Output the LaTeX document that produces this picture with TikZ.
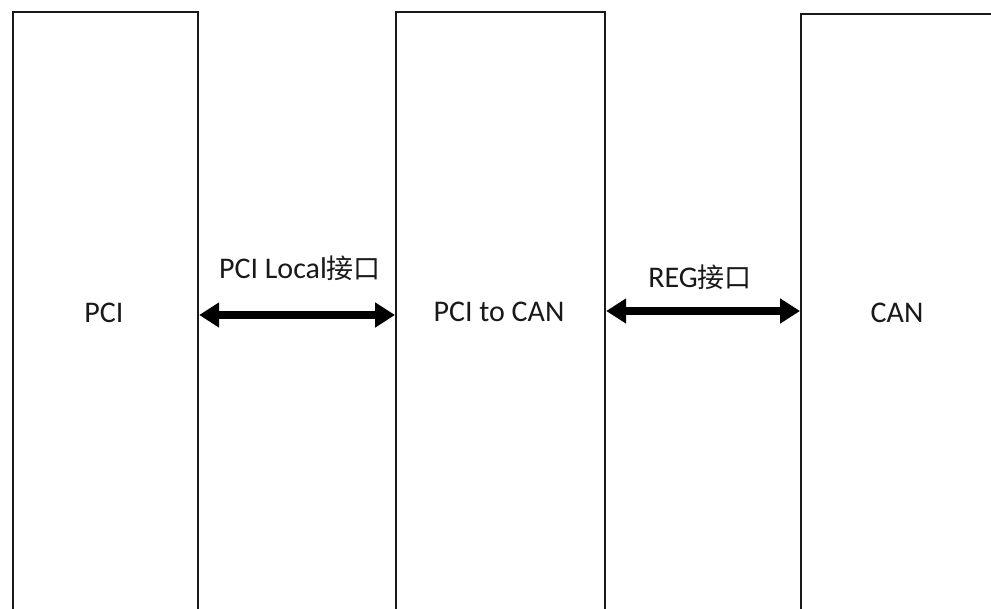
\documentclass[tikz,border=0pt]{standalone}
\usepackage{fontspec}
\setmainfont{Carlito}
\newfontfamily\cjk{Noto Sans CJK SC}
\usetikzlibrary{arrows.meta}
\begin{document}
\begin{tikzpicture}[x=1pt,y=1pt,
  blk/.style={draw=black!90, line width=2.2pt, fill=white, inner sep=0pt},
  lbl/.style={font=\fontsize{30}{34}\selectfont, text=black!90},
  biarrow/.style={line width=7.5pt, draw=black,
    {Triangle[length=20pt,width=24pt]}-{Triangle[length=20pt,width=24pt]}}]
\useasboundingbox[fill=white] (0,0) rectangle (991,608);
\node[blk, minimum width=185pt, minimum height=640pt, anchor=north west] (pci) at (12,597) {};
\node[blk, minimum width=209pt, minimum height=640pt, anchor=north west] (mid) at (395,597) {};
\node[blk, minimum width=240pt, minimum height=640pt, anchor=north west] (can) at (800,595) {};
\node[lbl] (tpci) at (104,295) {PCI};
\node[lbl] (tmid) at (499,296) {PCI to CAN};
\node[lbl] (tcan) at (897,295) {CAN};
\coordinate (y1) at (0,293);
\coordinate (y2) at (0,297);
\draw[biarrow] (pci.east |- y1) -- (mid.west |- y1);
\draw[biarrow] (mid.east |- y2) -- (can.west |- y2);
\node[lbl] (l1) at (300,340) {PCI Local{\cjk\fontsize{27}{30}\selectfont 接口}};
\node[lbl] (l2) at (700,331) {REG{\cjk\fontsize{27}{30}\selectfont 接口}};
\end{tikzpicture}
\end{document}
